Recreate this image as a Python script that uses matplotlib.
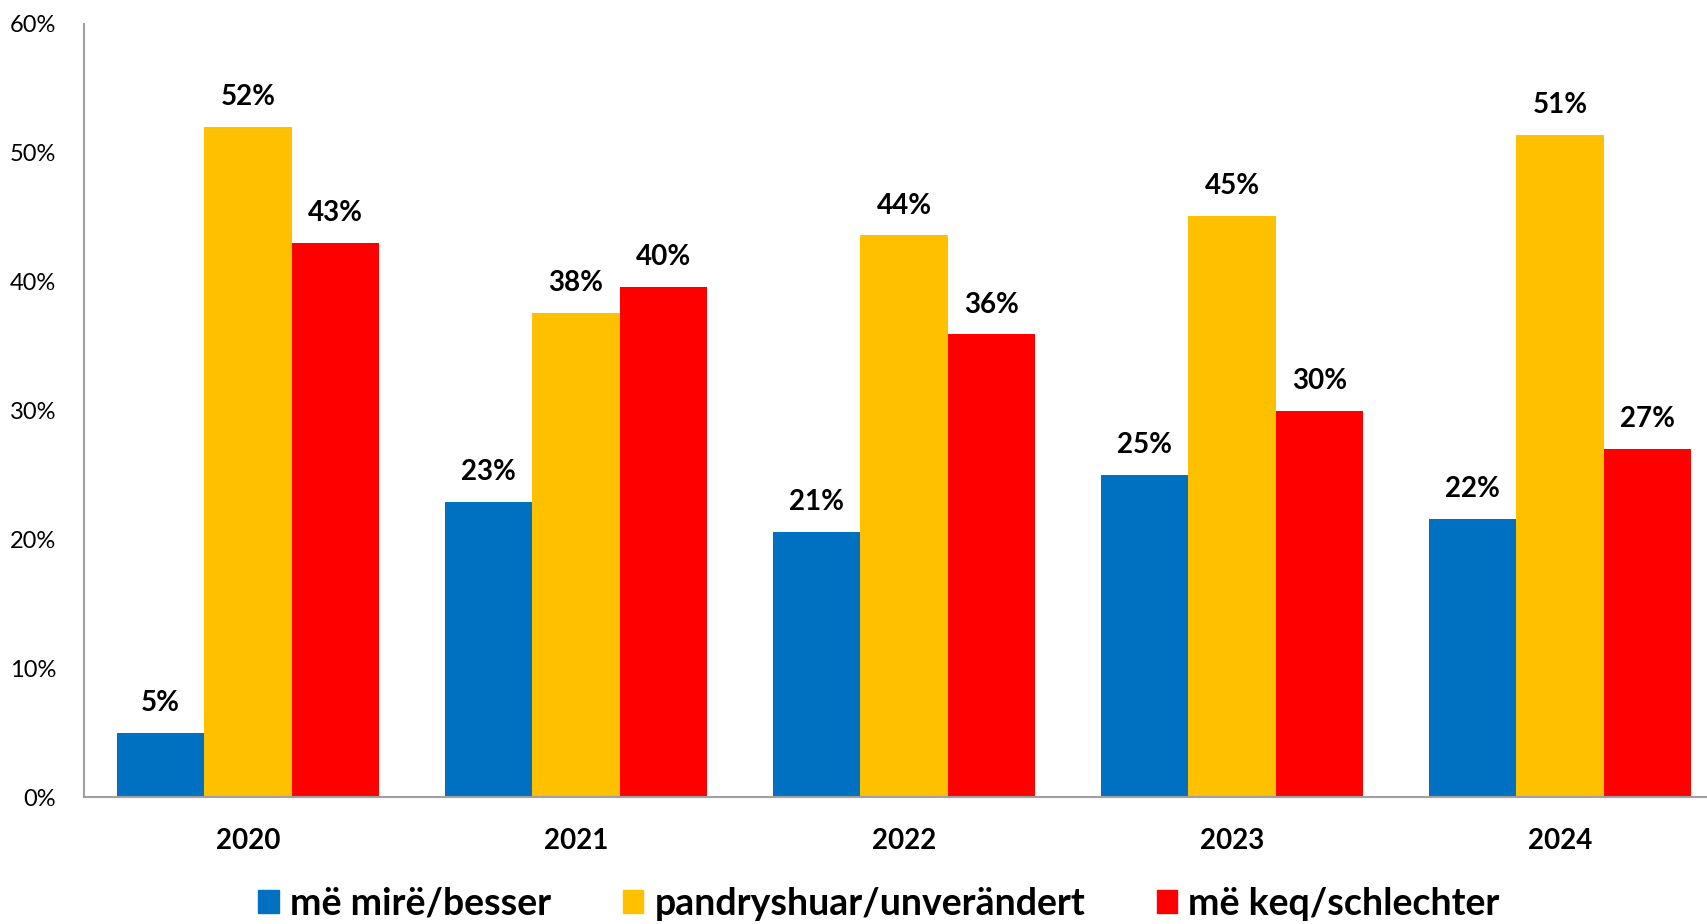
import numpy as np
import matplotlib.pyplot as plt
from matplotlib.patches import Patch

years = ['2020', '2021', '2022', '2023', '2024']
series = ['më mirë/besser', 'pandryshuar/unverändert', 'më keq/schlechter']
better = [5.0, 22.9, 20.6, 25.0, 21.6]
same = [52.0, 37.6, 43.6, 45.1, 51.4]
worse = [43.0, 39.6, 35.9, 30.0, 27.0]
colors = ['#0070C0', '#FFC000', '#FF0000']

plt.rcParams['font.family'] = ['Lato', 'DejaVu Sans']

fig = plt.figure(figsize=(17.07, 9.24), dpi=100)
ax = fig.add_axes([84 / 1707, 1 - 797 / 924, 1623 / 1707, (797 - 24) / 924])

x = np.arange(len(years))
w = 0.266
for i, (vals, c) in enumerate(zip([better, same, worse], colors)):
    pos = x + (i - 1) * w
    ax.bar(pos, vals, width=w, color=c, zorder=2)
    for px, v in zip(pos, vals):
        ax.text(px, v + 1.3, f"{v:.0f}%", ha='center', va='bottom',
                fontsize=20, fontweight='bold', color='black')

ax.set_xlim(-0.5, 4.448)
ax.set_ylim(0, 60)
ax.set_yticks(np.arange(0, 61, 10))
ax.set_yticklabels([f"{t}%" for t in range(0, 61, 10)], fontsize=17)
ax.set_xticks(x)
ax.set_xticklabels(years, fontsize=20, fontweight='bold')
ax.tick_params(axis='y', length=0, pad=20)
ax.tick_params(axis='x', length=0, pad=22)
for s in ['top', 'right']:
    ax.spines[s].set_visible(False)
for s in ['left', 'bottom']:
    ax.spines[s].set_color('#A0A0A0')
    ax.spines[s].set_linewidth(1.5)

handles = [Patch(color=c, label=l) for c, l in zip(colors, series)]
fig.legend(handles=handles, loc='center', bbox_to_anchor=(0.515, 0.022), ncol=3,
           frameon=False, prop={'size': 27, 'weight': 'bold'},
           handlelength=0.55, handleheight=0.6, handletextpad=0.3, columnspacing=1.9)

fig.savefig('out.png', dpi=100)
